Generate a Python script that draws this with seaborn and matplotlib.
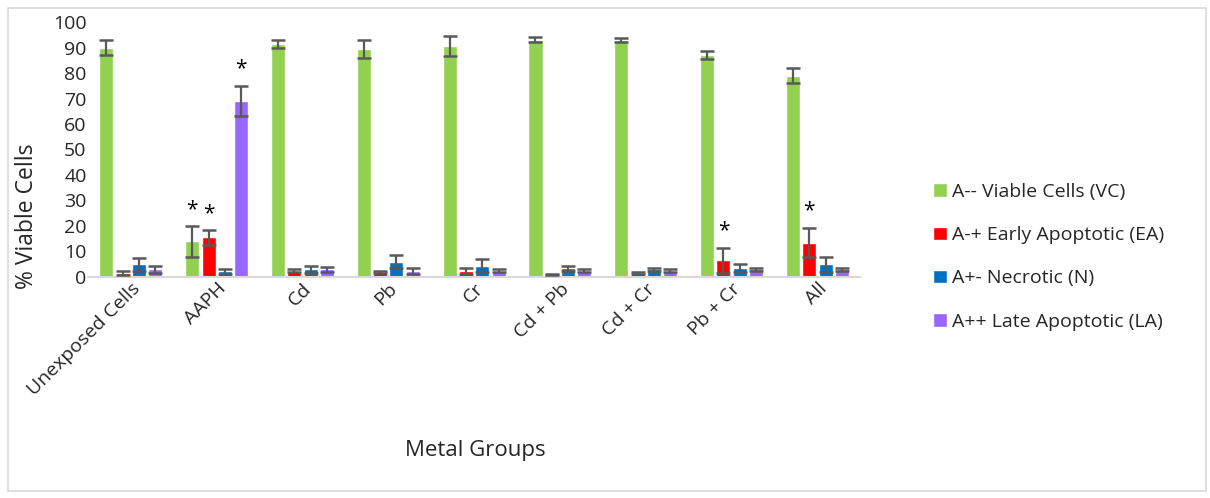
import matplotlib
matplotlib.use("Agg")
import matplotlib.pyplot as plt
import seaborn as sns
import pandas as pd
import numpy as np
from matplotlib.patches import Rectangle

groups = ["Unexposed Cells", "AAPH", "Cd", "Pb", "Cr", "Cd + Pb", "Cd + Cr", "Pb + Cr", "All"]
series = ["A-- Viable Cells (VC)", "A-+ Early Apoptotic (EA)", "A+- Necrotic (N)", "A++ Late Apoptotic (LA)"]
vc = [90.0, 14.0, 91.5, 89.5, 90.5, 93.0, 93.0, 87.0, 79.0]
ea = [1.5, 15.5, 2.5, 2.0, 2.5, 1.0, 1.5, 6.5, 13.5]
nc = [5.0, 2.3, 3.0, 6.0, 4.5, 3.5, 3.0, 3.5, 5.0]
la = [3.0, 69.0, 3.0, 2.5, 2.5, 2.5, 2.5, 3.0, 3.0]
vc_err = [3.0, 6.0, 1.5, 3.5, 4.0, 1.0, 0.7, 1.5, 3.0]
ea_err = [0.8, 3.0, 0.5, 0.4, 1.2, 0.3, 0.4, 5.0, 5.8]
nc_err = [2.5, 1.0, 1.5, 2.5, 2.5, 1.0, 0.6, 1.5, 3.0]
la_err = [1.5, 6.0, 1.0, 1.2, 0.6, 0.6, 0.5, 0.5, 0.6]
stars = [(1, 0), (1, 1), (1, 3), (7, 1), (8, 1)]  # (group index, series index)
colors = ["#92D050", "#FF0000", "#0070C0", "#9966FF"]

vals = [vc, ea, nc, la]
errs = [vc_err, ea_err, nc_err, la_err]
rows = []
for s, v in zip(series, vals):
    for g, x in zip(groups, v):
        rows.append({"group": g, "series": s, "value": x})
df = pd.DataFrame(rows)

sns.set_theme(style="white")
plt.rcParams["font.family"] = ["Open Sans", "DejaVu Sans"]

fig = plt.figure(figsize=(12.1, 4.98), dpi=100)
ax = fig.add_axes([0.0727, 0.4438, 0.6383, 0.512])
sns.barplot(data=df, x="group", y="value", hue="series", order=groups,
            hue_order=series, palette=colors, saturation=1, width=0.76, gap=0.14,
            errorbar=None, ax=ax, legend=True)

# error bars at bar positions computed by seaborn
for si in range(4):
    cont = ax.containers[si]
    for gi, patch in enumerate(cont.patches):
        xc = patch.get_x() + patch.get_width() / 2
        h = patch.get_height()
        ax.errorbar(xc, h, yerr=errs[si][gi], fmt="none", ecolor="#595959",
                    elinewidth=1.6, capsize=5, capthick=1.8, zorder=5)
        if (gi, si) in stars:
            ax.text(xc, h + errs[si][gi] + 6.5, "*", ha="center", va="center",
                    fontsize=15, color="black")

ax.set_xlim(-0.5, len(groups) - 0.5)
ax.set_ylim(0, 100)
ax.set_yticks(range(0, 101, 10))
ax.tick_params(axis="y", labelsize=14, length=0, pad=1)
ax.tick_params(axis="x", labelsize=14, length=0, pad=2)
plt.setp(ax.get_xticklabels(), rotation=45, ha="right", rotation_mode="anchor")
for sp in ["top", "right", "left"]:
    ax.spines[sp].set_visible(False)
ax.spines["bottom"].set_color("#D9D9D9")
ax.spines["bottom"].set_linewidth(1.5)
ax.set_ylabel("% Viable Cells", fontsize=16.5)
ax.yaxis.set_label_coords(-0.064, 0.24)
ax.set_xlabel("Metal Groups", fontsize=16)
ax.xaxis.set_label_coords(0.501, -0.64)

handles, labels = ax.get_legend_handles_labels()
ax.get_legend().remove()
fig.legend(handles, labels, loc="upper left", bbox_to_anchor=(0.757, 0.668),
           frameon=False, fontsize=14, labelspacing=1.3, handlelength=0.7,
           handleheight=0.7, handletextpad=0.25)

fig.patches.append(Rectangle((0.007, 0.015), 0.99, 0.968, transform=fig.transFigure,
                             fill=False, edgecolor="#D9D9D9", linewidth=1.2))

fig.savefig("out.png", dpi=100)
